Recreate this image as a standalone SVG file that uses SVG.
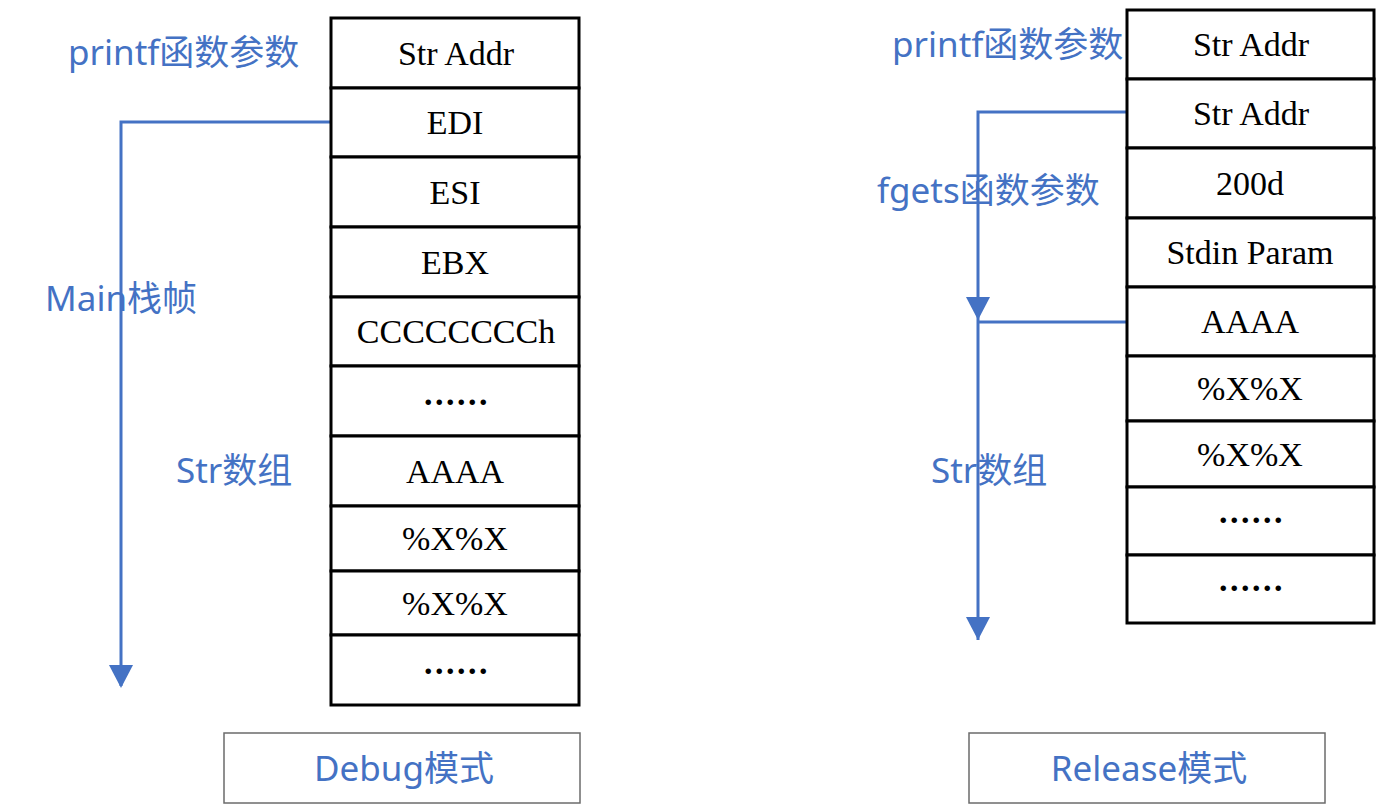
<svg xmlns="http://www.w3.org/2000/svg" width="1382" height="809" viewBox="0 0 1382 809">
<style>
.cell{fill:#fff;stroke:#000;stroke-width:3}
.ct{font-family:"Liberation Serif","Times New Roman",serif;font-size:34px;fill:#000;text-anchor:middle}
.dots{font-family:"Liberation Serif",serif;font-size:34px;font-weight:bold;letter-spacing:2.5px;fill:#000;text-anchor:middle}
.lbl{font-family:"Noto Sans","Noto Sans CJK SC",sans-serif;font-size:35px;fill:#4472C4}
.mode{fill:#fff;stroke:#6b6b6b;stroke-width:1.5}
.mt{font-family:"Noto Sans","Noto Sans CJK SC",sans-serif;font-size:35px;fill:#4472C4;text-anchor:middle}
.conn{fill:none;stroke:#4472C4;stroke-width:3}
</style>
<rect width="1382" height="809" fill="#fff"/>

<g id="connectors">
<polyline class="conn" points="331,122 121,122 121,686"/>
<path d="M109,665 L133,665 L121,688 Z" fill="#4472C4"/>
<polyline class="conn" points="1127,112 978,112 978,640"/>
<path d="M966,297 L990,297 L978,320 Z" fill="#4472C4"/>
<path d="M966,617 L990,617 L978,640 Z" fill="#4472C4"/>
<line class="conn" x1="978" y1="322" x2="1127" y2="322"/>
</g>

<g id="debug-stack">
<g id="d1"><rect class="cell" x="331" y="18" width="248" height="70"/><text class="ct" x="456" y="65">Str Addr</text></g>
<g id="d2"><rect class="cell" x="331" y="88" width="248" height="69"/><text class="ct" x="455" y="134">EDI</text></g>
<g id="d3"><rect class="cell" x="331" y="157" width="248" height="70"/><text class="ct" x="455" y="204">ESI</text></g>
<g id="d4"><rect class="cell" x="331" y="227" width="248" height="70"/><text class="ct" x="455" y="274">EBX</text></g>
<g id="d5"><rect class="cell" x="331" y="297" width="248" height="69"/><text class="ct" x="456" y="343">CCCCCCCCh</text></g>
<g id="d6"><rect class="cell" x="331" y="366" width="248" height="70"/><text class="dots" x="457" y="405">......</text></g>
<g id="d7"><rect class="cell" x="331" y="436" width="248" height="70"/><text class="ct" x="455" y="483">AAAA</text></g>
<g id="d8"><rect class="cell" x="331" y="506" width="248" height="65"/><text class="ct" x="455" y="550">%X%X</text></g>
<g id="d9"><rect class="cell" x="331" y="571" width="248" height="64"/><text class="ct" x="455" y="615">%X%X</text></g>
<g id="d10"><rect class="cell" x="331" y="635" width="248" height="70"/><text class="dots" x="457" y="674">......</text></g>
</g>

<g id="release-stack">
<g id="r1"><rect class="cell" x="1127" y="10" width="247" height="69"/><text class="ct" x="1251" y="56">Str Addr</text></g>
<g id="r2"><rect class="cell" x="1127" y="79" width="247" height="69"/><text class="ct" x="1251" y="125">Str Addr</text></g>
<g id="r3"><rect class="cell" x="1127" y="148" width="247" height="70"/><text class="ct" x="1250" y="195">200d</text></g>
<g id="r4"><rect class="cell" x="1127" y="218" width="247" height="69"/><text class="ct" x="1250" y="264">Stdin Param</text></g>
<g id="r5"><rect class="cell" x="1127" y="287" width="247" height="69"/><text class="ct" x="1250" y="333">AAAA</text></g>
<g id="r6"><rect class="cell" x="1127" y="356" width="247" height="65"/><text class="ct" x="1250" y="400">%X%X</text></g>
<g id="r7"><rect class="cell" x="1127" y="421" width="247" height="66"/><text class="ct" x="1250" y="466">%X%X</text></g>
<g id="r8"><rect class="cell" x="1127" y="487" width="247" height="68"/><text class="dots" x="1252" y="523">......</text></g>
<g id="r9"><rect class="cell" x="1127" y="555" width="247" height="68"/><text class="dots" x="1252" y="591">......</text></g>
</g>

<g id="labels">
<text id="l-printf1" class="lbl" x="68" y="65">printf函数参数</text>
<text id="l-main" class="lbl" x="45" y="311">Main栈帧</text>
<text id="l-str1" class="lbl" x="176" y="483">Str数组</text>
<text id="l-printf2" class="lbl" x="892" y="57">printf函数参数</text>
<text id="l-fgets" class="lbl" x="877" y="203">fgets函数参数</text>
<text id="l-str2" class="lbl" x="931" y="483">Str数组</text>
</g>

<g id="mode-debug"><rect class="mode" x="224" y="733" width="356" height="70"/><text class="mt" x="404" y="781">Debug模式</text></g>
<g id="mode-release"><rect class="mode" x="969" y="733" width="356" height="70"/><text class="mt" x="1149" y="781">Release模式</text></g>
</svg>
